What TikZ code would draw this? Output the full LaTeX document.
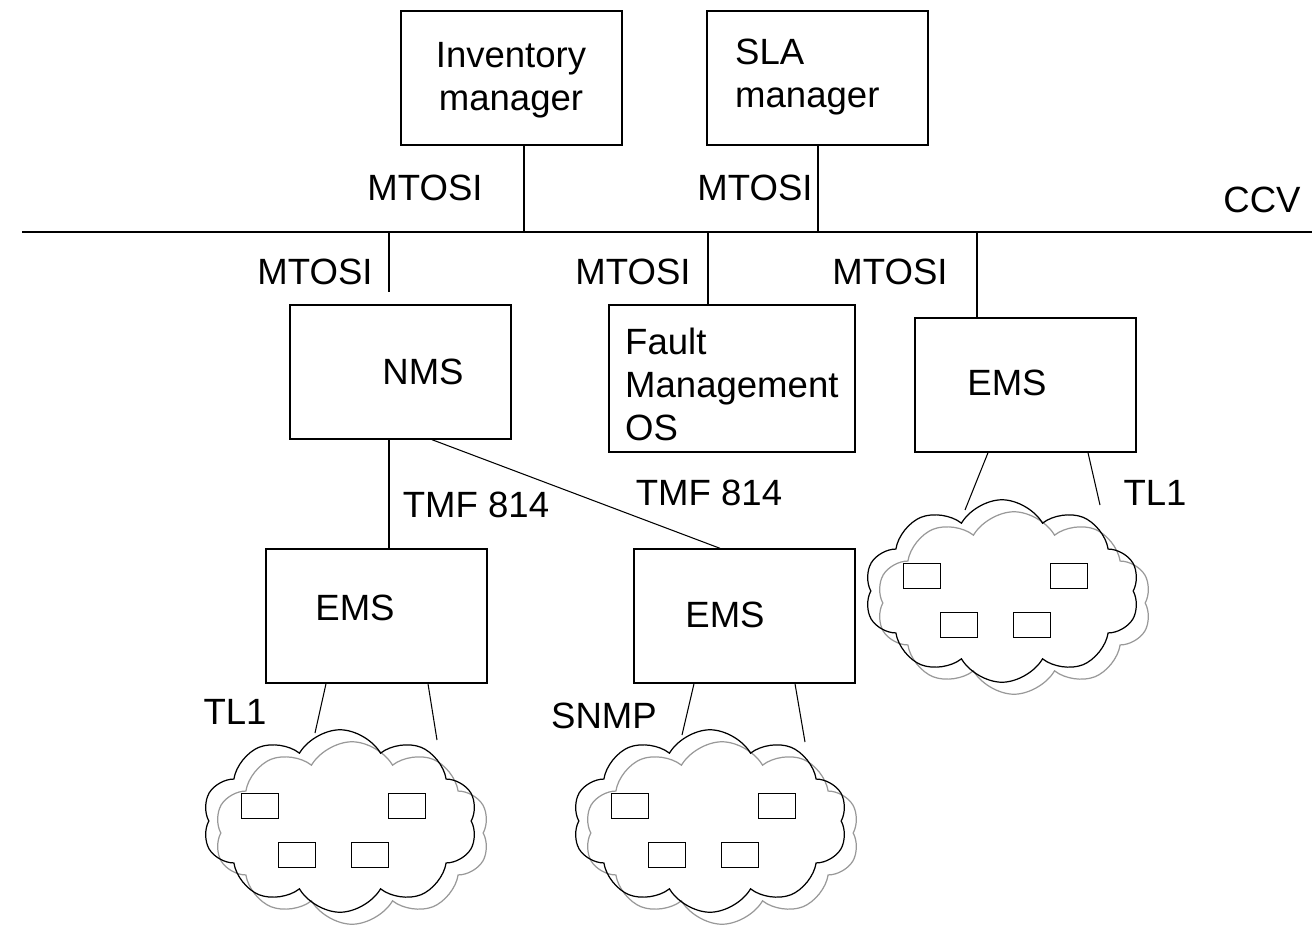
\documentclass[tikz,border=0pt]{standalone}
\usepackage{fontspec}
\setmainfont{Liberation Sans}
\usetikzlibrary{shapes.symbols}

\begin{document}
\begin{tikzpicture}[x=0.02cm,y=-0.02cm,font=\fontsize{20.8}{24.5}\selectfont,
  box/.style={draw,line width=0.8pt,minimum width=4.42cm,minimum height=2.68cm,inner sep=0pt},
  lnk/.style={line width=0.6pt},
  netcloud/.style={cloud,cloud puffs=10,cloud puff arc=120,cloud ignores aspect,minimum width=5.5cm,minimum height=3.65cm,inner sep=0pt,draw,line width=0.7pt},
  dev/.style={draw,line width=0.7pt,minimum width=0.74cm,minimum height=0.5cm,inner sep=0pt}]
\useasboundingbox (0,0) rectangle (1312,926);

% managers above the bus
\node[box] (inv) at (511.5,78) {};
\node[box] (sla) at (817.5,78) {};
\node[align=center] (invtxt) at (511,80) {Inventory\\manager};
\node[align=left,anchor=west] (slatxt) at (729,77) {SLA\\manager};

% the CCV bus
\coordinate (busl) at (22,232);
\coordinate (busr) at (1312,232);
\draw[lnk] (busl) -- (busr);
\node (ccv) at (1262,200) {CCV};
\coordinate (b1) at (524,232);
\coordinate (b2) at (818,232);
\coordinate (b3) at (389,232);
\coordinate (b4) at (708,232);
\coordinate (b5) at (977,232);

% systems below the bus
\node[box] (nms) at (400.5,372) {};
\node[box,minimum width=4.92cm,minimum height=2.94cm] (fault) at (732,378.5) {};
\node[box] (emsr) at (1025.5,385) {};
\node[box] (emsl) at (376.5,616) {};
\node[box] (emsm) at (744.5,616) {};
\node (nmstxt) at (423,372) {NMS};
\node[align=left,anchor=west] (faulttxt) at (619,384) {Fault\\Management\\OS};
\node (emsrtxt) at (1007,383) {EMS};
\node (emsltxt) at (355,608) {EMS};
\node (emsmtxt) at (725,615) {EMS};

% links to the bus
\draw[lnk] (b1 |- inv.south) -- (b1);
\draw[lnk] (b2 |- sla.south) -- (b2);
\draw[lnk,shorten >=0.24cm] (b3) -- (b3 |- nms.north);
\draw[lnk] (b4) -- (b4 |- fault.north);
\draw[lnk] (b5) -- (b5 |- emsr.north);
\node (mt1) at (425,188) {MTOSI};
\node (mt2) at (755,188) {MTOSI};
\node (mt3) at (315,272) {MTOSI};
\node (mt4) at (633,272) {MTOSI};
\node (mt5) at (890,272) {MTOSI};

% NMS to the EMSs
\draw[lnk] (b3 |- nms.south) -- (b3 |- emsl.north);
\draw[lnk] ([xshift=0.63cm]nms.south) -- ([xshift=-0.49cm]emsm.north);
\node (tmf1) at (476,505) {TMF 814};
\node (tmf2) at (709,493) {TMF 814};

% networks
\foreach \c/\cx/\cy in {cla/340/821, clb/710/821, clc/1002/591}{
  \node[netcloud,draw=black!40] at (\cx+12,\cy+12) {};
  \node[netcloud] (\c) at (\cx,\cy) {};
  \foreach \dx/\dy [count=\k] in {-80/-15,67/-15,-43/34,30/34}
    \node[dev] (\c\k) at (\cx+\dx,\cy+\dy) {};
}
\coordinate (cla-l) at (315,733);
\coordinate (cla-r) at (437,740);
\coordinate (clb-l) at (682,735);
\coordinate (clb-r) at (805,742);
\coordinate (clc-l) at (965,510);
\coordinate (clc-r) at (1100,505);
\draw[lnk] ([xshift=-1.01cm]emsl.south) -- (cla-l);
\draw[lnk] ([xshift=1.03cm]emsl.south) -- (cla-r);
\draw[lnk] ([xshift=-1.01cm]emsm.south) -- (clb-l);
\draw[lnk] ([xshift=1.01cm]emsm.south) -- (clb-r);
\draw[lnk] ([xshift=-0.75cm]emsr.south) -- (clc-l);
\draw[lnk] ([xshift=1.25cm]emsr.south) -- (clc-r);
\node (tl1a) at (235,712) {TL1};
\node (snmp) at (604,716) {SNMP};
\node (tl1b) at (1155,493) {TL1};
\end{tikzpicture}
\end{document}
